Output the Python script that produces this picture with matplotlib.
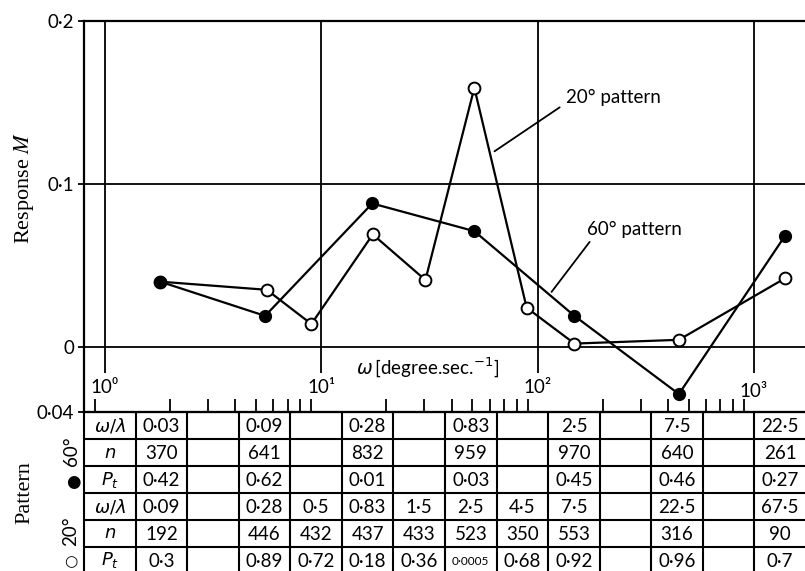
import matplotlib.pyplot as plt
import matplotlib.ticker as mticker

plt.rcParams['font.family'] = ['Lato', 'DejaVu Sans']
plt.rcParams['mathtext.fontset'] = 'dejavusans'

# response curves, omega in degree/sec
omega_60 = [1.8, 5.5, 17.2, 51, 148, 450, 1390]
M_60 = [0.040, 0.019, 0.088, 0.071, 0.019, -0.029, 0.068]

omega_20 = [1.8, 5.6, 9.0, 17.3, 30.3, 51, 89, 148, 450, 1390]
M_20 = [0.040, 0.035, 0.014, 0.069, 0.041, 0.159, 0.024, 0.002, 0.0043, 0.042]

decades = [1, 10, 100, 1000]
decade_labels = ['10⁰', '10¹', '10²', '10³']
yticks = [-0.04, 0, 0.1, 0.2]
ytick_labels = ['0·04', '0', '0·1', '0·2']

# table under the plot (13 data columns, '' = empty cell)
row_names = [r'$\omega/\lambda$', r'$n$', r'$P_t$']
w60 = ['0·03', '', '0·09', '', '0·28', '', '0·83', '', '2·5', '', '7·5', '', '22·5']
n60 = ['370', '', '641', '', '832', '', '959', '', '970', '', '640', '', '261']
p60 = ['0·42', '', '0·62', '', '0·01', '', '0·03', '', '0·45', '', '0·46', '', '0·27']
w20 = ['0·09', '', '0·28', '0·5', '0·83', '1·5', '2·5', '4·5', '7·5', '', '22·5', '', '67·5']
n20 = ['192', '', '446', '432', '437', '433', '523', '350', '553', '', '316', '', '90']
p20 = ['0·3', '', '0·89', '0·72', '0·18', '0·36', '0·0005', '0·68', '0·92', '', '0·96', '', '0·7']

W, H = 805, 571
def box(x0, y0, x1, y1):
    return [x0 / W, 1 - y1 / H, (x1 - x0) / W, (y1 - y0) / H]

fig = plt.figure(figsize=(W / 100, H / 100), dpi=100)

ax = fig.add_axes(box(84, 21, 806, 412))
ax.set_xscale('log')
ax.set_xlim(0.8, 1741)
ax.set_ylim(-0.04, 0.2)
ax.spines['right'].set_visible(False)
for s in ['left', 'top', 'bottom']:
    ax.spines[s].set_linewidth(1.6)

ax.set_yticks(yticks)
ax.set_yticklabels(ytick_labels)
ax.tick_params(axis='y', direction='out', length=4, width=1.3, labelsize=13.5, pad=3)
ax.xaxis.set_major_locator(mticker.FixedLocator(decades))
ax.xaxis.set_minor_locator(mticker.LogLocator(base=10, subs=range(2, 10), numticks=20))
ax.xaxis.set_minor_formatter(mticker.NullFormatter())
ax.tick_params(axis='x', which='major', length=0, labelbottom=False)
ax.tick_params(axis='x', which='minor', direction='in', length=9.5, width=1.3)

ax.vlines(decades, -0.016, 0.2, color='black', lw=1.3)
ax.axhline(0, color='black', lw=1.3)
ax.axhline(0.1, color='black', lw=1.3)

for d, lab in zip(decades, decade_labels):
    yy = -0.0276 if d == 1000 else -0.0252
    ax.text(d, yy, lab, ha='center', va='center', fontsize=13.5,
            family=['Lato', 'DejaVu Sans'])
ax.text(14.5, -0.0129, r'$\omega\,$[degree.sec.$^{-1}$]', ha='left', va='center', fontsize=13.5)

ax.plot(omega_20, M_20, '-o', color='black', mfc='white', mec='black',
        ms=8.5, mew=1.4, lw=1.6, zorder=3, clip_on=False)
ax.plot(omega_60, M_60, '-o', color='black', mfc='black', mec='black',
        ms=8.5, lw=1.6, zorder=4, clip_on=False)

# pattern labels with leader lines
ax.text(136, 0.153, '20° pattern', ha='left', va='center', fontsize=13.5)
ax.annotate('', xy=(63.2, 0.120), xytext=(126.5, 0.147),
            arrowprops=dict(arrowstyle='-', lw=1.3, color='black', shrinkA=0, shrinkB=0))
ax.text(170, 0.0718, '60° pattern', ha='left', va='center', fontsize=13.5)
ax.annotate('', xy=(116, 0.0337), xytext=(174, 0.0644),
            arrowprops=dict(arrowstyle='-', lw=1.3, color='black', shrinkA=0, shrinkB=0))

fig.text(24 / W, 1 - 188 / H, r'Response $M$', rotation=90, ha='center', va='center',
         fontsize=16, family='Liberation Serif', math_fontfamily='stix')

# table
tab = fig.add_axes(box(84, 412, 806, 574))
tab.set_xlim(0, 14)
tab.set_ylim(6, 0)
tab.axis('off')
tab.hlines(range(7), 0, 14, color='black', lw=1.5, clip_on=False)
tab.vlines(range(15), 0, 6, color='black', lw=1.5, clip_on=False)

rows = [w60, n60, p60, w20, n20, p20]
for r, vals in enumerate(rows):
    tab.text(0.5, r + 0.5, row_names[r % 3], ha='center', va='center', fontsize=13)
    for c, v in enumerate(vals):
        if v:
            fs = 8.5 if len(v) > 5 else 13.5
            tab.text(c + 1.5, r + 0.55, v, ha='center', va='center', fontsize=fs)

tab.text(-0.24, 1.45, '60°', rotation=90, ha='center', va='center', fontsize=13.5)
tab.text(-0.2, 2.6, '●', ha='center', va='center', fontsize=12, family='DejaVu Sans')
tab.text(-0.26, 4.4, '20°', rotation=90, ha='center', va='center', fontsize=13.5)
tab.text(-0.26, 5.55, '○', ha='center', va='center', fontsize=11, family='DejaVu Sans')
fig.text(25 / W, 1 - 493 / H, 'Pattern', rotation=90, ha='center', va='center',
         fontsize=16, family='Liberation Serif')

fig.savefig('out.png', dpi=100)
